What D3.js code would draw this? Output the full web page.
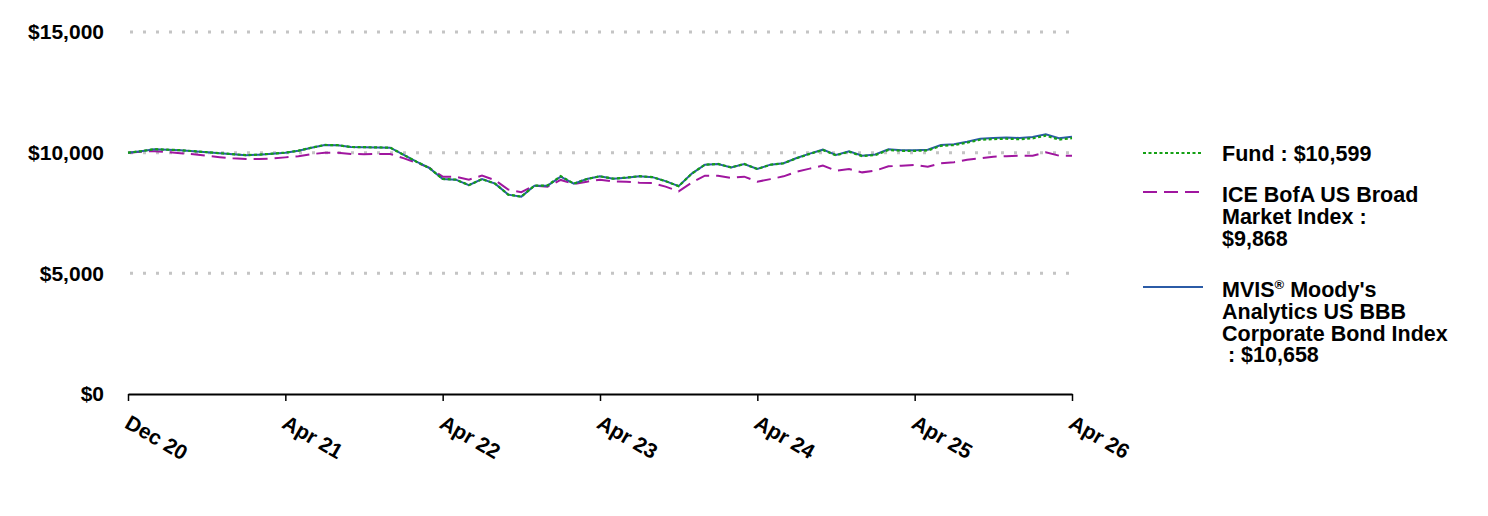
<!DOCTYPE html>
<html>
<head>
<meta charset="utf-8">
<script src="https://cdn.jsdelivr.net/npm/d3@7"></script>
<style>
  body { margin: 0; background: #fff; }
  svg { display: block; font-family: Arial, "Liberation Sans", sans-serif; }
</style>
</head>
<body>
<div id="chart"></div>
<script>
// tick labels, every 12th point
const tickLabels = ["Dec 20", "Apr 21", "Apr 22", "Apr 23", "Apr 24", "Apr 25", "Apr 26"]
const yTicks = [0, 5000, 10000, 15000]

// growth of $10,000
const mvisValues = [10000, 10062, 10145, 10124, 10104, 10062, 10021, 9979, 9938, 9897,
   9917, 9959, 10000, 10083, 10207, 10319, 10311, 10236, 10228, 10219,
   10207, 9917, 9627, 9358, 8911, 8882, 8655, 8903, 8717, 8261,
   8178, 8634, 8634, 9007, 8717, 8911, 9019, 8924, 8965, 9027,
   8986, 8820, 8613, 9131, 9503, 9532, 9391, 9532, 9325, 9503,
   9565, 9781, 9959, 10124, 9905, 10054, 9876, 9925, 10137, 10104,
   10104, 10124, 10319, 10352, 10455, 10580, 10609, 10629, 10609, 10650,
   10766, 10600, 10658]

const fundValues = [10000, 10062, 10145, 10124, 10104, 10062, 10021, 9979, 9938, 9897,
   9917, 9959, 10000, 10083, 10207, 10319, 10311, 10236, 10228, 10219,
   10207, 9917, 9627, 9358, 8911, 8882, 8655, 8903, 8717, 8261,
   8178, 8634, 8640, 9030, 8717, 8911, 9019, 8924, 8965, 9027,
   8986, 8820, 8613, 9131, 9503, 9532, 9391, 9532, 9325, 9500,
   9560, 9772, 9948, 10110, 9890, 10036, 9856, 9902, 10112, 10076,
   10074, 10092, 10284, 10314, 10414, 10536, 10562, 10578, 10556, 10594,
   10706, 10540, 10599]

const iceValues = [10000, 10041, 10062, 10021, 9979, 9938, 9876, 9814, 9764, 9739,
   9739, 9760, 9805, 9855, 9938, 10000, 10000, 9946, 9938, 9946,
   9946, 9772, 9586, 9367, 9006, 9006, 8882, 9048, 8862, 8468,
   8365, 8634, 8592, 8870, 8704, 8799, 8882, 8812, 8799, 8758,
   8746, 8592, 8398, 8758, 9048, 9048, 8953, 9006, 8799, 8903,
   9019, 9213, 9338, 9462, 9255, 9325, 9184, 9255, 9433, 9462,
   9491, 9420, 9557, 9607, 9710, 9764, 9834, 9855, 9876, 9876,
   10012, 9876, 9868]

const seriesNames = ["Fund", "ICE BofA US Broad Market Index", "MVIS Moody's Analytics US BBB Corporate Bond Index"]

width = 1488
height = 516
margin = ({ top: 32, right: 416, bottom: 122, left: 128 })

const n = mvisValues.length

x = d3.scaleLinear()
   .domain([0, n - 1])
   .range([margin.left, width - margin.right])

y = d3.scaleLinear()
   .domain([0, 15000])
   .range([height - margin.bottom, margin.top])

const svg = d3.create("svg")
   .attr("width", width)
   .attr("height", height)
   .attr("viewBox", [0, 0, width, height])

// dotted grid lines
svg.append("g")
   .selectAll("line")
   .data(yTicks.filter(d => d > 0))
   .join("line")
   .attr("x1", x(0) + 2)
   .attr("x2", x(n - 1))
   .attr("y1", d => y(d))
   .attr("y2", d => y(d))
   .attr("stroke", "#c4c4c4")
   .attr("stroke-width", 3)
   .attr("stroke-dasharray", "3,10")

// y axis: labels only
svg.append("g")
   .attr("transform", `translate(${margin.left},0)`)
   .call(d3.axisLeft(y).tickValues(yTicks).tickFormat(d3.format("$,")).tickSize(0).tickPadding(24))
   .call(g => g.select(".domain").remove())
   .call(g => g.selectAll("text")
      .attr("fill", "#000")
      .attr("font-size", 21)
      .attr("font-weight", "bold")
      .attr("font-family", "Arial, 'Liberation Sans', sans-serif"))

// x axis
const tickIdx = tickLabels.map((d, i) => i * 12)
svg.append("g")
   .attr("transform", `translate(0,${y(0)})`)
   .call(d3.axisBottom(x).tickValues(tickIdx).tickFormat((d, i) => tickLabels[i]).tickSize(7).tickSizeOuter(0))
   .call(g => g.select(".domain").attr("stroke", "#000").attr("stroke-width", 2))
   .call(g => g.selectAll(".tick line").attr("stroke", "#000").attr("stroke-width", 1.5))
   .call(g => g.selectAll("text")
      .attr("fill", "#000")
      .attr("font-size", 21)
      .attr("font-weight", "bold")
      .attr("font-family", "Arial, 'Liberation Sans', sans-serif")
      .attr("text-anchor", "start")
      .attr("x", 0).attr("y", 0).attr("dy", 0)
      .attr("transform", "translate(-5,33) rotate(30)"))

line = d3.line()
   .x((d, i) => x(i))
   .y(d => y(d))

const styles = [
   { values: iceValues, color: "#a0169f", dash: "14,7", width: 2 },
   { values: mvisValues, color: "#2b5ba6", dash: null, width: 2 },
   { values: fundValues, color: "#14a014", dash: "3,2.5", width: 2.2 }
]

svg.append("g")
   .attr("fill", "none")
   .selectAll("path")
   .data(styles)
   .join("path")
   .attr("stroke", d => d.color)
   .attr("stroke-width", d => d.width)
   .attr("stroke-dasharray", d => d.dash)
   .attr("d", d => line(d.values))

// legend
const fmt = d3.format("$,")
const legendItems = [
   { color: "#14a014", dash: "3,2.5", ly: 153, lines: [seriesNames[0] + " : " + fmt(fundValues[n - 1])], ty: 160.5 },
   { color: "#a0169f", dash: "14,7", ly: 192, lines: ["ICE BofA US Broad", "Market Index :", fmt(iceValues[n - 1])], ty: 202 },
   { color: "#2b5ba6", dash: null, ly: 287, lines: ["MVIS", "Analytics US BBB", "Corporate Bond Index", "\u00a0: " + fmt(mvisValues[n - 1])], ty: 297 }
]

const legend = svg.append("g")
legendItems.forEach((item, k) => {
   legend.append("line")
      .attr("x1", 1143).attr("x2", 1203)
      .attr("y1", item.ly).attr("y2", item.ly)
      .attr("stroke", item.color)
      .attr("stroke-width", 2)
      .attr("stroke-dasharray", item.dash)
   const t = legend.append("text")
      .attr("x", 1222)
      .attr("y", item.ty)
      .attr("font-size", 21.5)
      .attr("font-weight", "bold")
      .attr("fill", "#000")
   item.lines.forEach((s, j) => {
      const sp = t.append("tspan")
         .attr("x", 1222)
         .attr("dy", j == 0 ? 0 : 21.8)
         .text(s)
      if (k == 2 && j == 0) {
         t.append("tspan").attr("font-size", 13).attr("dy", -8).text("\u00ae")
         t.append("tspan").attr("dy", 8).text(" Moody's")
      }
   })
})

d3.select("#chart").node().append(svg.node())
</script>
</body>
</html>
